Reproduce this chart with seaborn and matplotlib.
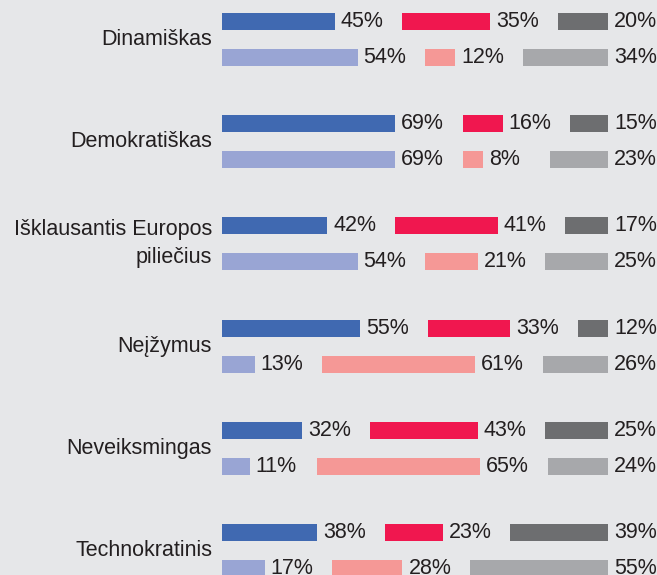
import matplotlib
matplotlib.use("Agg")
import matplotlib.pyplot as plt
import seaborn as sns
from matplotlib import font_manager

categories = ["Dinamiškas", "Demokratiškas", "Išklausantis Europos\npiliečius",
              "Neįžymus", "Neveiksmingas", "Technokratinis"]
row1_blue = [45, 69, 42, 55, 32, 38]
row1_red = [35, 16, 41, 33, 43, 23]
row1_gray = [20, 15, 17, 12, 25, 39]
row2_blue = [54, 69, 54, 13, 11, 17]
row2_red = [12, 8, 21, 61, 65, 28]
row2_gray = [34, 23, 25, 26, 24, 55]

BG = "#e6e7e9"
TXT = "#231f20"
row_colors = [["#4069b1", "#f0174f", "#6d6e70"],
              ["#99a5d4", "#f59896", "#a7a8ab"]]

sns.set_theme(style="white")
names = {f.name for f in font_manager.fontManager.ttflist}
fam = "Liberation Sans Narrow" if "Liberation Sans Narrow" in names else "Liberation Sans"
plt.rcParams["font.family"] = [fam, "DejaVu Sans"]

W, H = 657, 575
fig = plt.figure(figsize=(W / 100, H / 100), dpi=100, facecolor=BG)
left_px = 222
ax = fig.add_axes([left_px / W, 0, 1 - left_px / W, 1])
ax.set_facecolor(BG)

px_per_unit = 2.51
gap = 67.5 / px_per_unit
ax.set_xlim(0, (W - left_px) / px_per_unit)
group_px = 102.2
ax.set_ylim((H - 21.5) / group_px, -21.5 / group_px)
row_off = 36 / group_px
bar_h = 17 / group_px

rows = [(row1_blue, row1_red, row1_gray), (row2_blue, row2_red, row2_gray)]
for g in range(len(categories)):
    for r, series in enumerate(rows):
        y = g + r * row_off
        start = 0
        for s, vals in enumerate(series):
            v = vals[g]
            ax.barh(y, v, left=start, height=bar_h, color=row_colors[r][s], linewidth=0)
            ax.text(start + v + 6 / px_per_unit, y, f"{v}%", va="center", ha="left",
                    fontsize=15.5, color=TXT)
            start += v + gap
    ax.text(-10 / px_per_unit, g + row_off / 2, categories[g], ha="right", va="center",
            fontsize=15.5, color=TXT, linespacing=1.45, clip_on=False)

for sp in ax.spines.values():
    sp.set_visible(False)
ax.set_xticks([])
ax.set_yticks([])

fig.savefig("out.png", dpi=100, facecolor=BG)
